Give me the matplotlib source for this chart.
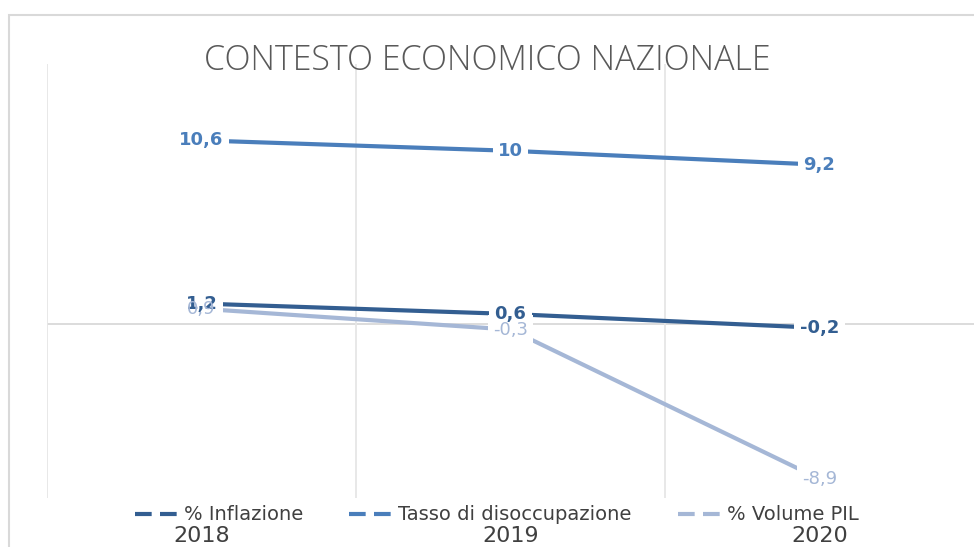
import matplotlib
matplotlib.use("Agg")
import matplotlib.pyplot as plt
from matplotlib.lines import Line2D
from matplotlib.patches import Rectangle

years = ["2018", "2019", "2020"]
inflazione = [1.2, 0.6, -0.2]
disoccupazione = [10.6, 10.0, 9.2]
pil = [0.9, -0.3, -8.9]
series_names = ["% Inflazione", "Tasso di disoccupazione", "% Volume PIL"]
title = "CONTESTO ECONOMICO NAZIONALE"

colors = ["#335E91", "#4A7EBB", "#A5B7D6"]
label_weights = ["bold", "bold", "normal"]

plt.rcParams["font.family"] = ["DejaVu Sans"]

fig = plt.figure(figsize=(9.74, 5.47), dpi=100)
ax = fig.add_axes([47 / 974, 1 - 498 / 547, 1 - 47 / 974, (498 - 64) / 547])

x = list(range(len(years)))
ax.set_xlim(-0.5, 2.5)
ax.set_ylim(-10, 15)

for s in ax.spines.values():
    s.set_visible(False)
ax.set_yticks([])
ax.set_xticks(x)
ax.set_xticklabels(years, fontsize=16, color="#404040")
ax.tick_params(axis="x", length=0, pad=20)
ax.set_xticks([-0.5, 0.5, 1.5], minor=True)
ax.tick_params(axis="x", which="minor", length=0)
ax.grid(True, which="minor", axis="x", color="#E6E6E6", lw=1.3)
ax.axhline(0, color="#D9D9D9", lw=1.3, zorder=1)

data = [inflazione, disoccupazione, pil]
for vals, c in zip(data, colors):
    ax.plot(x, vals, color=c, lw=3, zorder=2, solid_capstyle="butt")

def fmt(v):
    return ("%g" % v).replace(".", ",")

# white boxes first, then texts on top so overlapping labels stay visible
for vals, c, w in zip(data, colors, label_weights):
    for xi, v in zip(x, vals):
        ax.text(xi, v, fmt(v), ha="center", va="center", fontsize=13, fontweight=w,
                color="none", zorder=3,
                bbox=dict(boxstyle="square,pad=0.3", fc="white", ec="none"))
for vals, c, w in zip(data, colors, label_weights):
    for xi, v in zip(x, vals):
        ax.text(xi, v, fmt(v), ha="center", va="center", fontsize=13, fontweight=w,
                color=c, zorder=4)

fig.text(0.5, 1 - 61 / 547, title, ha="center", va="center", fontsize=24.5,
         color="#595959", family=["Open Sans", "DejaVu Sans"], fontweight="light")

handles = [Line2D([0], [0], color=c, lw=3, linestyle=(0, (4, 2))) for c in colors]
fig.legend(handles, series_names, loc="center", bbox_to_anchor=(0.51, 1 - 515 / 547),
           ncol=3, frameon=False, fontsize=14, handlelength=2.4, handletextpad=0.1,
           columnspacing=2.4, labelcolor="#404040")

fig.patches.append(Rectangle((9 / 974, -0.1), 1.1, 1 - 15 / 547 + 0.1,
                             transform=fig.transFigure, fill=False, ec="#D9D9D9", lw=1.5))

fig.savefig("out.png", dpi=100)
